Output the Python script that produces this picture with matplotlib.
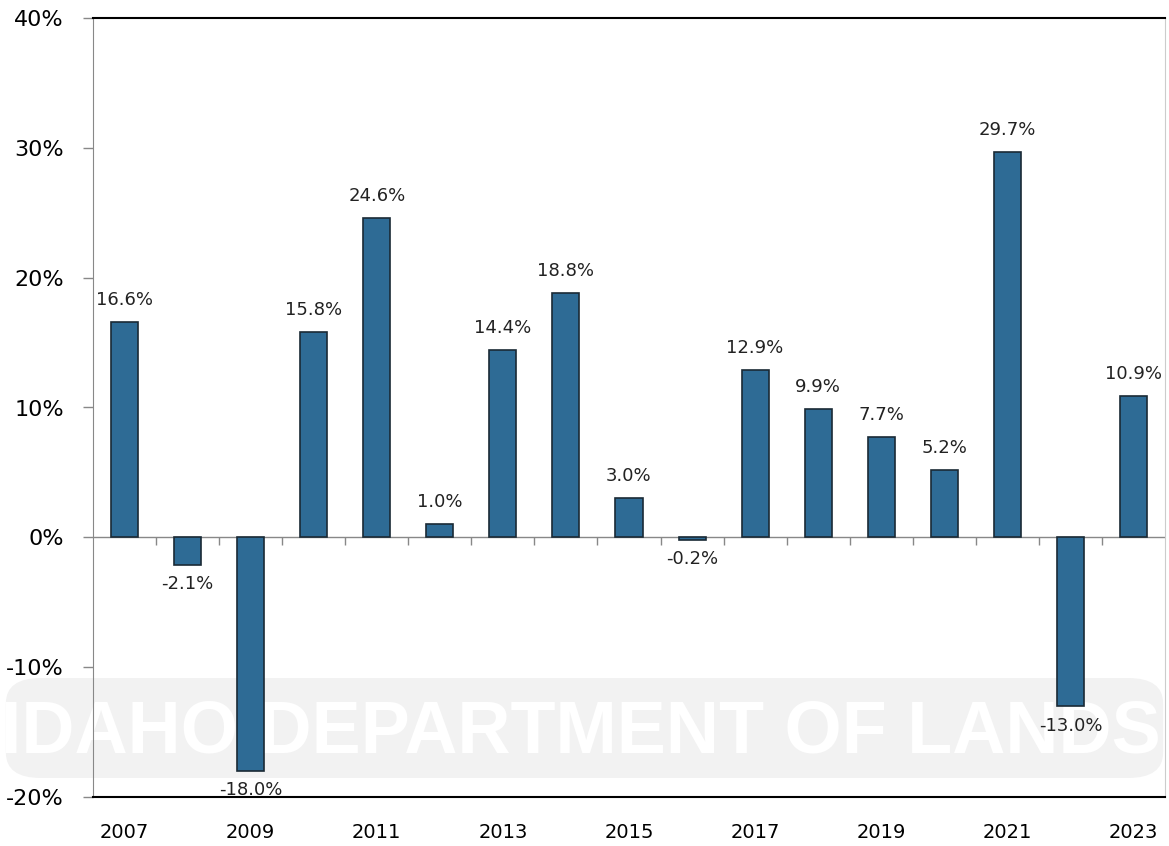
import matplotlib
matplotlib.use("Agg")
import matplotlib.pyplot as plt
from matplotlib.patches import FancyBboxPatch

# annual change, percent
years = [2007, 2008, 2009, 2010, 2011, 2012, 2013, 2014, 2015,
         2016, 2017, 2018, 2019, 2020, 2021, 2022, 2023]
changes = [16.6, -2.1, -18.0, 15.8, 24.6, 1.0, 14.4, 18.8, 3.0,
           -0.2, 12.9, 9.9, 7.7, 5.2, 29.7, -13.0, 10.9]
tick_years = [2007, 2009, 2011, 2013, 2015, 2017, 2019, 2021, 2023]
y_ticks = [-20, -10, 0, 10, 20, 30, 40]

fig = plt.figure(figsize=(11.69, 8.46), dpi=100)
ax = fig.add_axes([93/1169, 1 - 797/846, (1165 - 93)/1169, (797 - 18)/846])
ax.set_facecolor("none")

# faint watermark band behind the chart
band = FancyBboxPatch((0.005, 1 - 778/846), 0.99, 100/846,
                      boxstyle="round,pad=0,rounding_size=0.03",
                      transform=fig.transFigure, facecolor="#f2f2f2",
                      edgecolor="none", zorder=-2)
fig.patches.append(band)
fig.text(0.497, 1 - 733/846, "IDAHO DEPARTMENT OF LANDS", ha="center", va="center",
         fontsize=53, fontweight="bold", color="white", family="Liberation Sans",
         zorder=-1)

bars = ax.bar(years, changes, width=0.43, color="#2e6b95", edgecolor="#1a2a35",
              linewidth=1.2, zorder=3)

for x, v in zip(years, changes):
    if v >= 0:
        ax.text(x, v + 1.0, "%.1f%%" % v, ha="center", va="bottom",
                fontsize=13, color="#222222", zorder=4)
    else:
        ax.text(x, v - 0.8, "%.1f%%" % v, ha="center", va="top",
                fontsize=13, color="#222222", zorder=4)

ax.axhline(0, color="#888888", linewidth=1.0, zorder=2)
# small category ticks on the zero line
ax.vlines([y + 0.5 for y in years[:-1]], -0.6, 0, color="#888888",
          linewidth=1.0, zorder=2)

ax.set_xlim(2006.5, 2023.5)
ax.set_ylim(-20, 40)
ax.set_xticks(tick_years)
ax.set_xticklabels([str(y) for y in tick_years], fontsize=14)
ax.set_yticks(y_ticks)
ax.set_yticklabels(["%d%%" % t for t in y_ticks], fontsize=16)
ax.tick_params(axis="x", length=0, pad=19)
ax.tick_params(axis="y", length=7, width=1, color="#888888", pad=14)

ax.spines["top"].set_color("black")
ax.spines["bottom"].set_color("black")
ax.spines["top"].set_linewidth(1.5)
ax.spines["bottom"].set_linewidth(1.5)
ax.spines["left"].set_color("#888888")
ax.spines["right"].set_color("#cccccc")

fig.savefig("out.png", dpi=100)
